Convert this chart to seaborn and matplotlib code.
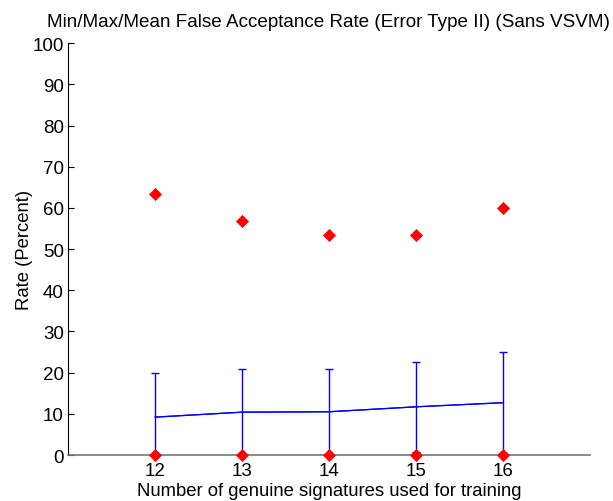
import numpy as np
import pandas as pd
import matplotlib
matplotlib.use('Agg')
import matplotlib.pyplot as plt
import seaborn as sns

# values
n_train = [12, 13, 14, 15, 16]
mean_far = [9.2, 10.4, 10.5, 11.7, 12.7]
std_far = [10.7, 10.5, 10.5, 10.9, 12.2]
max_far = [63.3, 56.7, 53.3, 53.3, 60.0]
min_far = [0, 0, 0, 0, 0]

sns.set_style('white')
plt.rcParams['font.family'] = ['Liberation Sans', 'DejaVu Sans']
plt.rcParams['text.color'] = 'black'
plt.rcParams['axes.labelcolor'] = 'black'
plt.rcParams['xtick.color'] = 'black'
plt.rcParams['ytick.color'] = 'black'

df = pd.DataFrame({'n': n_train, 'mean': mean_far, 'std': std_far,
                   'max': max_far, 'min': min_far})

fig = plt.figure(figsize=(6.13, 5.02), dpi=100)
ax = fig.add_axes([0.111, 0.0916, 0.851, 0.8205])

# mean with std error bars
ax.errorbar(df['n'], df['mean'], yerr=df['std'], color='blue', lw=0.9,
            capsize=3, capthick=1, elinewidth=1, zorder=2)
sns.lineplot(data=df, x='n', y='mean', color='blue', lw=0.9, ax=ax, zorder=3)

# min / max markers
for col in ['max', 'min']:
    sns.scatterplot(data=df, x='n', y=col, marker='D', s=38, color='red',
                    edgecolor='red', linewidth=0.5, ax=ax, zorder=4, clip_on=False)

ax.set_xlim(11, 17)
ax.set_ylim(0, 100)
ax.set_xticks(n_train)
ax.set_yticks(np.arange(0, 101, 10))
ax.tick_params(axis='y', direction='in', length=4, labelsize=13.5, left=True, pad=3)
ax.tick_params(axis='x', length=0, labelsize=13.5, pad=5)

for s in ['top', 'right']:
    ax.spines[s].set_visible(False)
ax.spines['left'].set_color('black')
ax.spines['left'].set_linewidth(0.8)
ax.spines['bottom'].set_color('#777777')
ax.spines['bottom'].set_linewidth(1.2)

ax.set_title('Min/Max/Mean False Acceptance Rate (Error Type II) (Sans VSVM)',
             fontsize=13.6, pad=12)
ax.set_xlabel('Number of genuine signatures used for training', fontsize=13.3, labelpad=2)
ax.set_ylabel('Rate (Percent)', fontsize=13.3, labelpad=0)

fig.savefig('out.png', dpi=100)
